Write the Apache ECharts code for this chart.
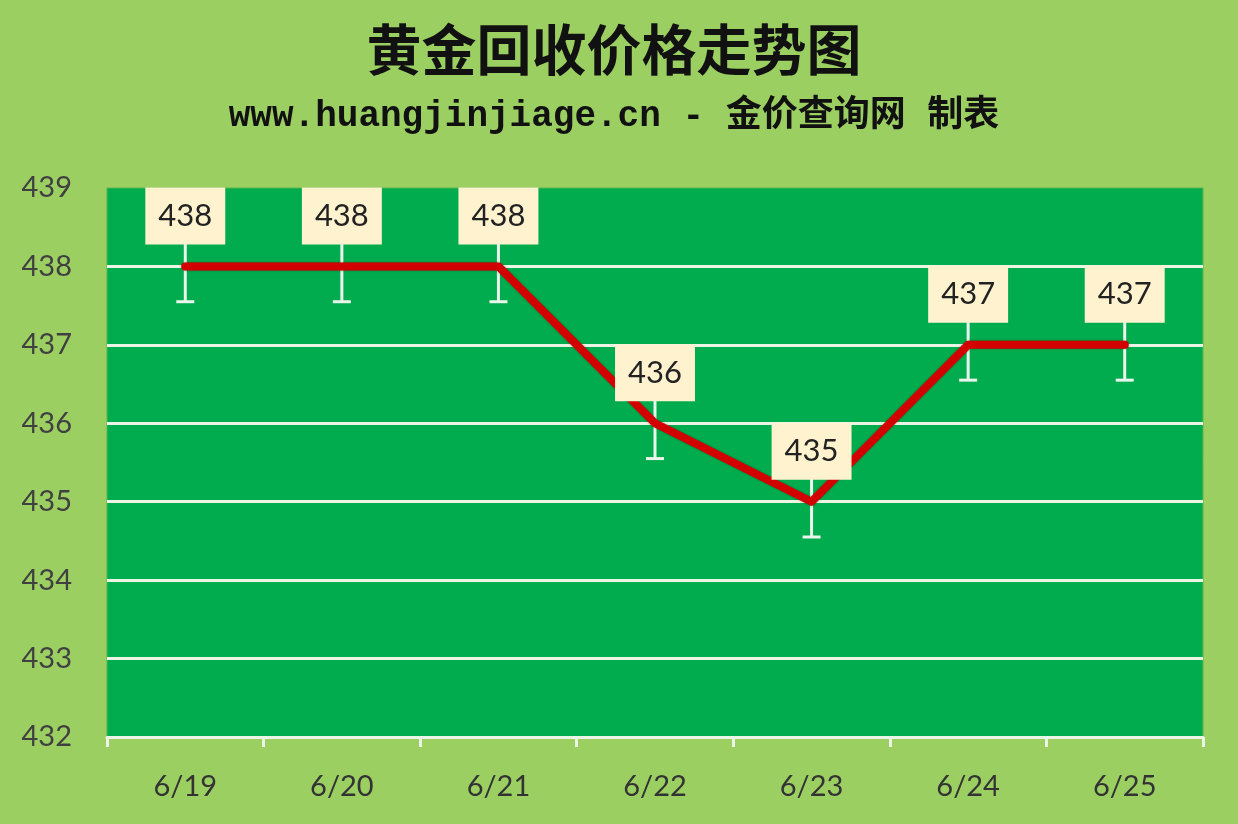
<!DOCTYPE html>
<html>
<head>
<meta charset="utf-8">
<script src="https://cdn.jsdelivr.net/npm/echarts@6/dist/echarts.min.js"></script>
<style>html,body{margin:0;padding:0;background:#9CCF62;}#c{width:1238px;height:824px;}</style>
</head>
<body>
<div id="c"></div>
<script>
const categories = ['6/19','6/20','6/21','6/22','6/23','6/24','6/25'];
const prices = [438, 438, 438, 436, 435, 437, 437];
const errorAmounts = [0.45, 0.45, 0.45, 0.45, 0.45, 0.45, 0.45];
const yTicks = [432, 433, 434, 435, 436, 437, 438, 439];

const chart = echarts.init(document.getElementById('c'));
const gridColor = '#EAF5E6';
chart.setOption({
  backgroundColor: '#9CCF62',
  animation: false,
  title: [
    { text: '黄金回收价格走势图', left: 609, textAlign: 'center', top: 17,
      textStyle: { fontSize: 55, fontWeight: 'bold', color: '#111', fontFamily: 'Noto Sans CJK SC' } },
    { text: 'www.huangjinjiage.cn - 金价查询网 制表', left: 609, textAlign: 'center', top: 94,
      textStyle: { fontSize: 36, fontWeight: 'bold', color: '#111', fontFamily: 'Liberation Mono, Noto Sans CJK SC' } }
  ],
  grid: { left: 107, right: 35, top: 188, bottom: 87, show: true,
          backgroundColor: '#00AC4D', borderColor: '#5DB54A', borderWidth: 1 },
  xAxis: {
    type: 'category', data: categories, boundaryGap: true,
    axisLine: { lineStyle: { color: gridColor, width: 3 } },
    axisTick: { show: true, length: 10, lineStyle: { color: gridColor, width: 3 } },
    axisLabel: { fontSize: 29, color: '#333', margin: 35, fontFamily: 'Lato, Noto Sans' }
  },
  yAxis: {
    type: 'value', min: yTicks[0], max: yTicks[yTicks.length - 1], interval: 1,
    axisLine: { show: false }, axisTick: { show: false },
    axisLabel: { fontSize: 29, color: '#404040', margin: 35, fontFamily: 'Lato, Noto Sans' },
    splitLine: { lineStyle: { color: [gridColor, gridColor, gridColor, gridColor, gridColor, gridColor, gridColor, 'rgba(0,0,0,0)'], width: 3 } }
  },
  series: [
    {
      type: 'custom', z: 2,
      data: prices.map((v, i) => [i, v, errorAmounts[i]]),
      renderItem: function (params, api) {
        const i = api.value(0), v = api.value(1), e = api.value(2);
        const top = api.coord([i, v + e]);
        const bot = api.coord([i, v - e]);
        const cw = 9;
        const style = { stroke: '#EAF6EC', lineWidth: 3, fill: null };
        return { type: 'group', children: [
          { type: 'line', shape: { x1: top[0], y1: top[1], x2: bot[0], y2: bot[1] }, style: style },
          { type: 'line', shape: { x1: bot[0] - cw, y1: bot[1], x2: bot[0] + cw, y2: bot[1] }, style: style },
          { type: 'line', shape: { x1: top[0] - cw, y1: top[1], x2: top[0] + cw, y2: top[1] }, style: style }
        ]};
      }
    },
    {
      type: 'line', z: 3, data: prices, symbol: 'circle', symbolSize: 4, showSymbol: true,
      itemStyle: { color: '#D20000' },
      lineStyle: { color: '#D20000', width: 8, cap: 'round', join: 'round', shadowColor: 'rgba(90,0,0,0.5)', shadowBlur: 2 },
      label: {
        show: true, position: 'top', distance: 20,
        fontSize: 31, lineHeight: 33, color: '#222', fontFamily: 'Lato, Noto Sans',
        backgroundColor: '#FFF2CF', padding: [12, 13, 12, 13]
      },
      labelLayout: { hideOverlap: false }
    }
  ]
});
</script>
</body>
</html>
